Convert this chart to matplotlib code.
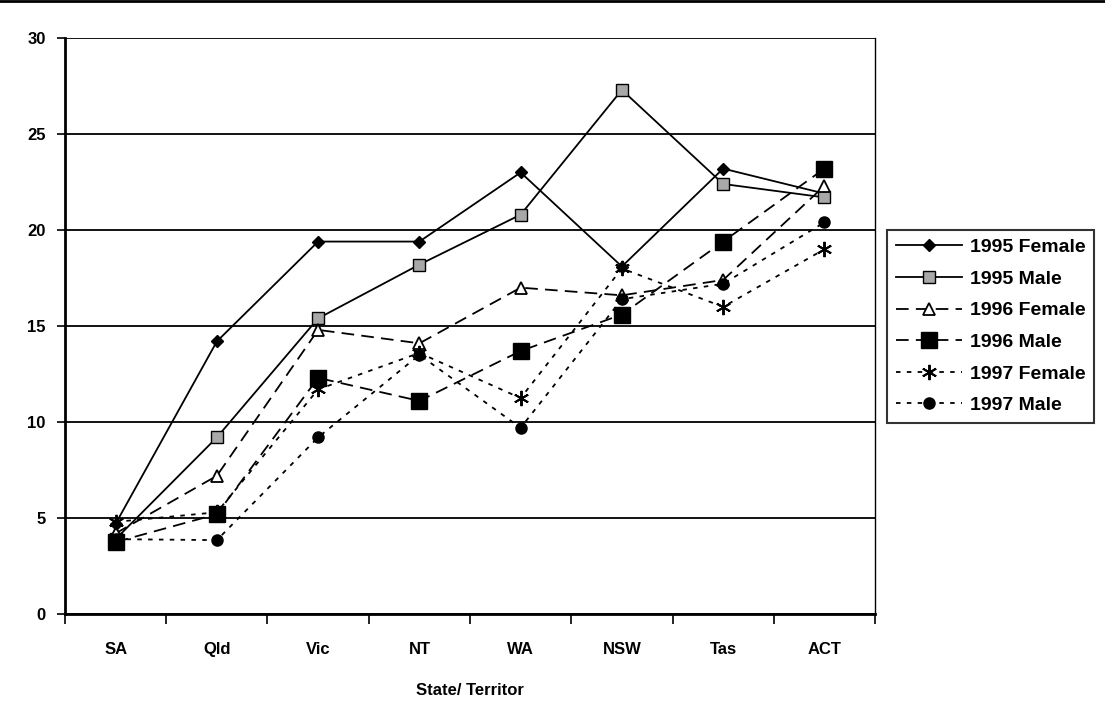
import matplotlib
matplotlib.use("Agg")
import matplotlib.pyplot as plt
from matplotlib.lines import Line2D

states = ["SA", "Qld", "Vic", "NT", "WA", "NSW", "Tas", "ACT"]

female_1995 = [4.7, 14.2, 19.4, 19.4, 23.0, 18.1, 23.2, 21.9]
male_1995 = [3.9, 9.2, 15.4, 18.2, 20.8, 27.3, 22.4, 21.7]
female_1996 = [4.2, 7.2, 14.8, 14.1, 17.0, 16.6, 17.4, 22.3]
male_1996 = [3.75, 5.2, 12.3, 11.1, 13.7, 15.6, 19.4, 23.2]
female_1997 = [4.8, 5.3, 11.7, 13.6, 11.25, 18.0, 16.0, 19.0]
male_1997 = [3.9, 3.85, 9.2, 13.5, 9.7, 16.4, 17.2, 20.4]

plt.rcParams["font.family"] = ["Liberation Sans", "DejaVu Sans"]
plt.rcParams["font.weight"] = "bold"

fig = plt.figure(figsize=(11.05, 7.18), dpi=100)
ax = fig.add_axes([0.0588, 0.1448, 0.7331, 0.8022])

x = list(range(len(states)))
dash_long = (0, (7, 4))
dash_short = (0, (2.5, 3.5))

ax.plot(x, female_1995, color="black", lw=1.3, marker="D", ms=6,
        mfc="black", mec="black", label="1995 Female", zorder=5)
ax.plot(x, male_1995, color="black", lw=1.3, marker="s", ms=8,
        mfc="#a8a8a8", mec="black", mew=1.0, label="1995 Male", zorder=5)
ax.plot(x, female_1996, color="black", lw=1.3, ls=dash_long, marker="^", ms=9,
        mfc="white", mec="black", mew=1.3, label="1996 Female", zorder=5)
ax.plot(x, male_1996, color="black", lw=1.3, ls=dash_long, marker="s", ms=12,
        mfc="black", mec="black", label="1996 Male", zorder=5)
ax.plot(x, female_1997, color="black", lw=1.3, ls=dash_short, marker=(6, 2, 0), ms=11,
        mfc="black", mec="black", mew=1.4, label="1997 Female", zorder=5)
ax.plot(x, male_1997, color="black", lw=1.3, ls=dash_short, marker="o", ms=8,
        mfc="black", mec="black", label="1997 Male", zorder=5)

ax.set_xlim(-0.5, len(states) - 0.5)
ax.set_ylim(0, 30)
ax.set_yticks(range(0, 31, 5))
ax.yaxis.grid(True, color="black", lw=1.3)
ax.set_axisbelow(True)

ax.set_xticks([i - 0.5 for i in range(len(states) + 1)])
ax.set_xticklabels([])
ax.set_xticks(x, minor=True)
ax.set_xticklabels(states, minor=True, fontsize=12, fontweight="bold")
ax.tick_params(axis="x", which="major", direction="out", length=7, width=1.2)
ax.tick_params(axis="x", which="minor", length=0, pad=20)
ax.tick_params(axis="y", direction="out", length=6, width=1.2, labelsize=12, pad=8)

for side in ["left", "bottom"]:
    ax.spines[side].set_linewidth(2)
ax.spines["top"].set_visible(False)
ax.spines["right"].set_linewidth(1.0)
ax.spines["right"].set_linestyle((0, (2, 1)))

ax.set_xlabel("State/ Territor", fontsize=12, fontweight="bold", labelpad=19)

leg = ax.legend(loc="upper left", bbox_to_anchor=(1.015, 0.667), frameon=True,
                fancybox=False, edgecolor="black", fontsize=14, handlelength=3.4,
                labelspacing=0.72, borderpad=0.45, handletextpad=0.4,
                borderaxespad=0)
leg.get_frame().set_linewidth(1.5)

fig.add_artist(Line2D([0, 1], [0.998, 0.998], color="black", lw=2,
                      transform=fig.transFigure))

fig.savefig("out.png", dpi=100)
